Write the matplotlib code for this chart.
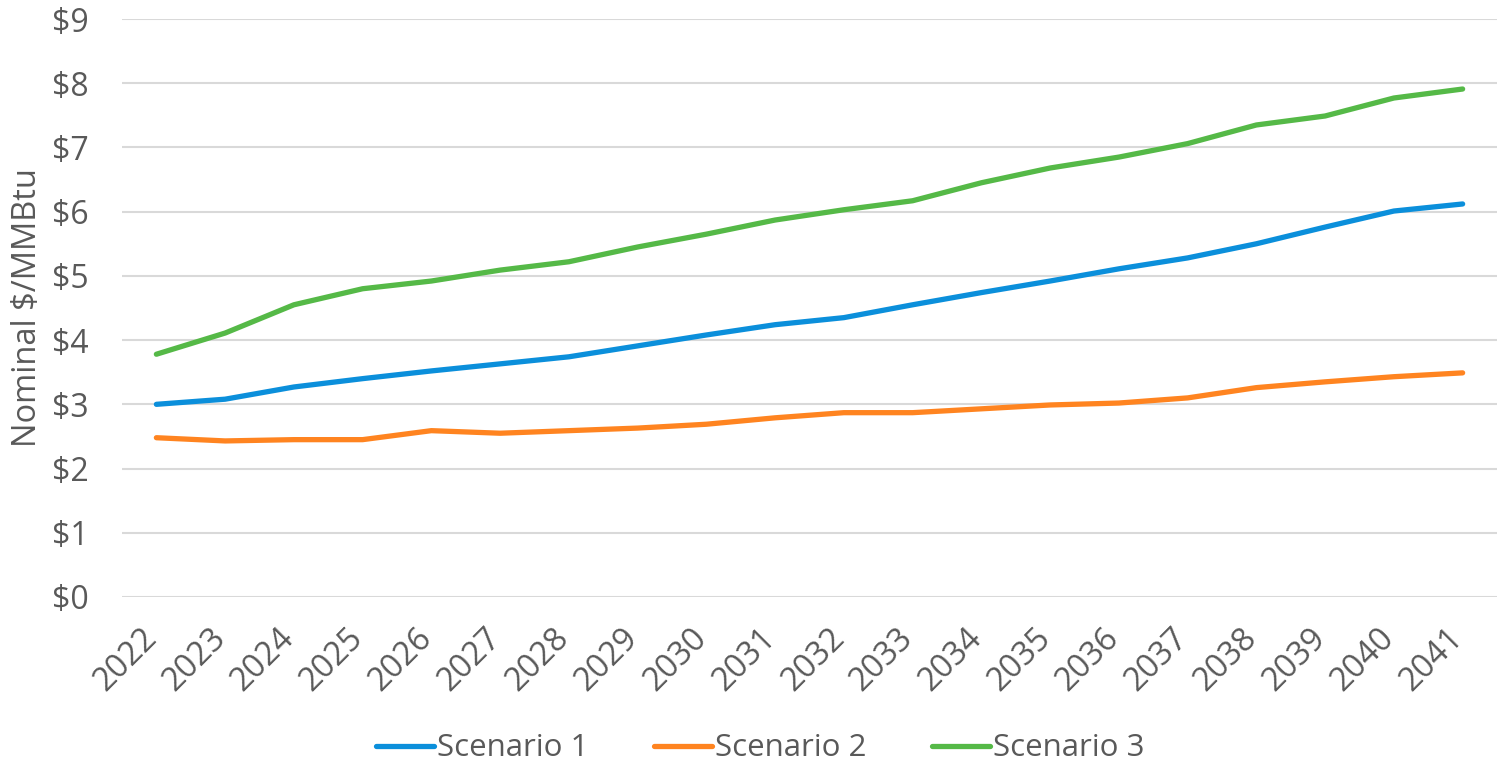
import matplotlib.pyplot as plt
from matplotlib.transforms import ScaledTranslation

# gas price forecast by scenario, nominal $/MMBtu
years = [str(y) for y in range(2022, 2042)]
scenario_1 = [3.00, 3.08, 3.27, 3.40, 3.52, 3.63, 3.74, 3.91, 4.08, 4.24,
              4.35, 4.55, 4.74, 4.92, 5.11, 5.28, 5.50, 5.76, 6.01, 6.12]
scenario_2 = [2.48, 2.43, 2.45, 2.45, 2.59, 2.55, 2.59, 2.63, 2.69, 2.79,
              2.87, 2.87, 2.93, 2.99, 3.02, 3.10, 3.26, 3.35, 3.43, 3.49]
scenario_3 = [3.78, 4.11, 4.55, 4.80, 4.92, 5.09, 5.22, 5.45, 5.65, 5.87,
              6.03, 6.17, 6.45, 6.68, 6.85, 7.06, 7.35, 7.49, 7.77, 7.91]
y_ticks = list(range(0, 10))

plt.rcParams['font.family'] = ['Open Sans', 'DejaVu Sans']
grey = '#595959'

fig = plt.figure(figsize=(14.97, 7.70), dpi=100)
ax = fig.add_axes([0.0815, 0.2247, 0.9185, 0.7506])

x = range(len(years))
ax.plot(x, scenario_1, color='#0B8FDB', lw=3.8, label='Scenario 1', solid_capstyle='round')
ax.plot(x, scenario_2, color='#FF8420', lw=3.8, label='Scenario 2', solid_capstyle='round')
ax.plot(x, scenario_3, color='#55B947', lw=3.8, label='Scenario 3', solid_capstyle='round')

ax.set_xlim(-0.5, len(years) - 0.5)
ax.set_ylim(0, 9)
ax.set_yticks(y_ticks)
ax.set_yticklabels([f'${v}' for v in y_ticks])
ax.set_xticks(list(x))
ax.set_xticklabels(years, rotation=45, ha='right', rotation_mode='anchor')
ax.tick_params(axis='both', length=0, colors=grey)
ax.tick_params(axis='y', labelsize=23, pad=24)
ax.tick_params(axis='x', labelsize=23.5, pad=18)
shift = ScaledTranslation(-16 / 100, 0, fig.dpi_scale_trans)
for lab in ax.get_xticklabels():
    lab.set_transform(lab.get_transform() + shift)

ax.grid(axis='y', color='#D9D9D9', lw=1.5)
ax.set_axisbelow(True)
for s in ax.spines.values():
    s.set_visible(False)

ax.set_ylabel('Nominal $/MMBtu', fontsize=23.5, color=grey, labelpad=6)

fig.legend(loc='center', bbox_to_anchor=(0.508, 0.028), ncol=3, frameon=False,
           fontsize=22.5, labelcolor=grey, handlelength=1.85, handletextpad=0.1,
           columnspacing=2.1)

fig.savefig('out.png', dpi=100)
